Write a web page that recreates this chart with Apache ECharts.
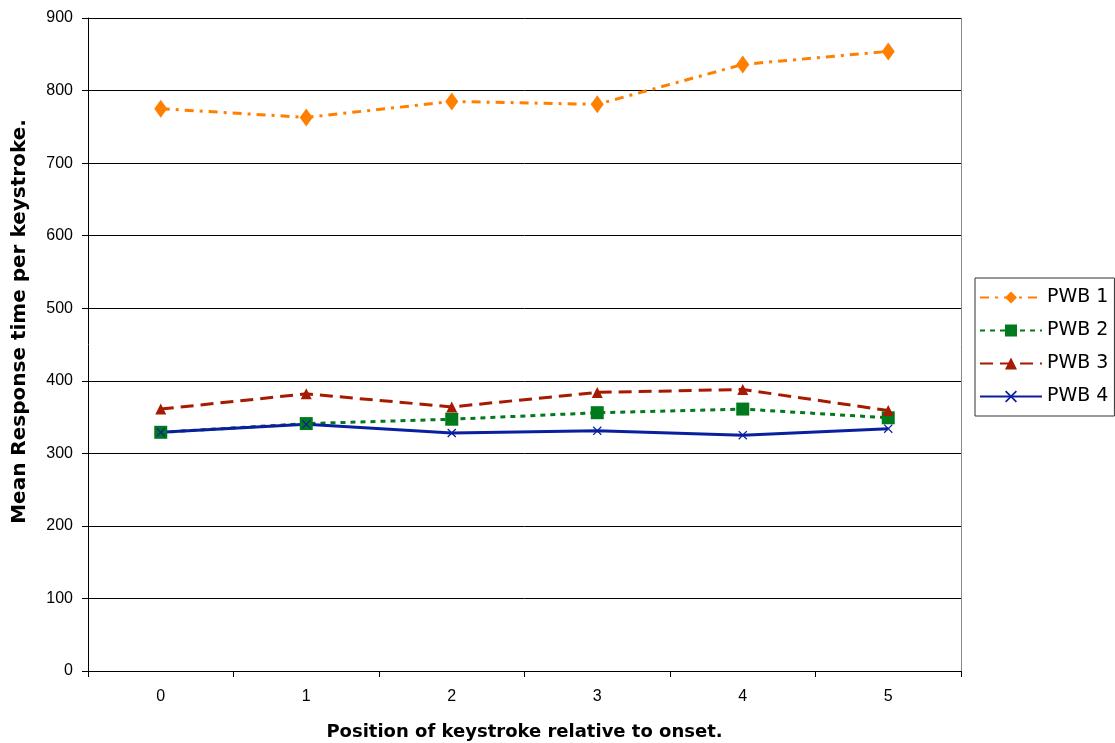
<!DOCTYPE html>
<html>
<head>
<meta charset="utf-8">
<script src="https://cdn.jsdelivr.net/npm/echarts@6/dist/echarts.min.js"></script>
<style>
  html, body { margin: 0; padding: 0; background: #fff; }
  #chart { width: 1115px; height: 743px; }
</style>
</head>
<body>
<div id="chart"></div>
<script>
// keystroke positions
var positions = ['0', '1', '2', '3', '4', '5'];
var seriesNames = ['PWB 1', 'PWB 2', 'PWB 3', 'PWB 4'];
var pwb1 = [775, 763, 785, 781, 836, 854];
var pwb2 = [329, 341, 347, 356, 361, 349];
var pwb3 = [361, 382, 364, 384, 388, 359];
var pwb4 = [329, 340, 328, 331, 325, 334];
var yTicks = [0, 900, 100];

var crossPath = 'path://M0,1L1,0L5,4L9,0L10,1L6,5L10,9L9,10L5,6L1,10L0,9L4,5Z';

var chart = echarts.init(document.getElementById('chart'));

function makeLine(name, data, color, dash, symbol, size) {
    return {
        name: name,
        type: 'line',
        data: data,
        symbol: symbol,
        symbolSize: size,
        showAllSymbol: true,
        itemStyle: { color: color, borderWidth: 0 },
        lineStyle: { color: color, width: 3, type: dash },
        emphasis: { disabled: true },
        animation: false,
        z: 3
    };
}

var option = {
    backgroundColor: '#fff',
    textStyle: { fontFamily: 'Liberation Sans, Arial, sans-serif' },
    grid: { left: 88, right: 154, top: 18, bottom: 72, outerBoundsMode: 'none', containLabel: false },
    legend: {
        orient: 'vertical',
        left: 975,
        top: 278,
        padding: [10, 6, 10, 4],
        itemGap: 14,
        itemWidth: 62,
        itemHeight: 15,
        borderColor: '#333',
        borderWidth: 1,
        data: seriesNames,
        textStyle: { fontSize: 19, color: '#000', fontFamily: 'DejaVu Sans, sans-serif' }
    },
    xAxis: {
        type: 'category',
        data: positions,
        boundaryGap: true,
        name: 'Position of keystroke relative to onset.',
        nameLocation: 'middle',
        nameGap: 52,
        nameTextStyle: { fontSize: 18, fontWeight: 'bold', color: '#000', fontFamily: 'DejaVu Sans, sans-serif' },
        axisLine: { lineStyle: { color: '#000', width: 1 } },
        axisTick: { show: true, alignWithLabel: false, length: 6, lineStyle: { color: '#000' } },
        axisLabel: { fontSize: 16, color: '#000', margin: 18 },
        splitLine: { show: false }
    },
    yAxis: {
        type: 'value',
        min: yTicks[0],
        max: yTicks[1],
        interval: yTicks[2],
        name: 'Mean Response time per keystroke.',
        nameLocation: 'middle',
        nameGap: 58,
        nameRotate: 90,
        nameTextStyle: { fontSize: 20, fontWeight: 'bold', color: '#000', fontFamily: 'DejaVu Sans, sans-serif', padding: [0, 0, 0, 46] },
        axisLine: { show: true, lineStyle: { color: '#000', width: 1 } },
        axisTick: { show: true, length: 6, lineStyle: { color: '#000' } },
        axisLabel: { fontSize: 16, color: '#000', margin: 15 },
        splitLine: { show: true, lineStyle: { color: '#000', width: 1 } }
    },
    series: [
        makeLine(seriesNames[0], pwb1, '#FF8000', [9, 6, 3, 6], 'diamond', [13, 18]),
        makeLine(seriesNames[1], pwb2, '#007A1C', [5, 5], 'rect', 13),
        makeLine(seriesNames[2], pwb3, '#A51A00', [13, 7], 'triangle', 11),
        makeLine(seriesNames[3], pwb4, '#0A1FA0', 'solid', crossPath, 9)
    ],
    graphic: [
        // right frame of plot area (light)
        { type: 'line', shape: { x1: 961.5, y1: 18, x2: 961.5, y2: 671 }, style: { stroke: '#888', lineWidth: 1 }, silent: true }
    ]
};

chart.setOption(option);
</script>
</body>
</html>
